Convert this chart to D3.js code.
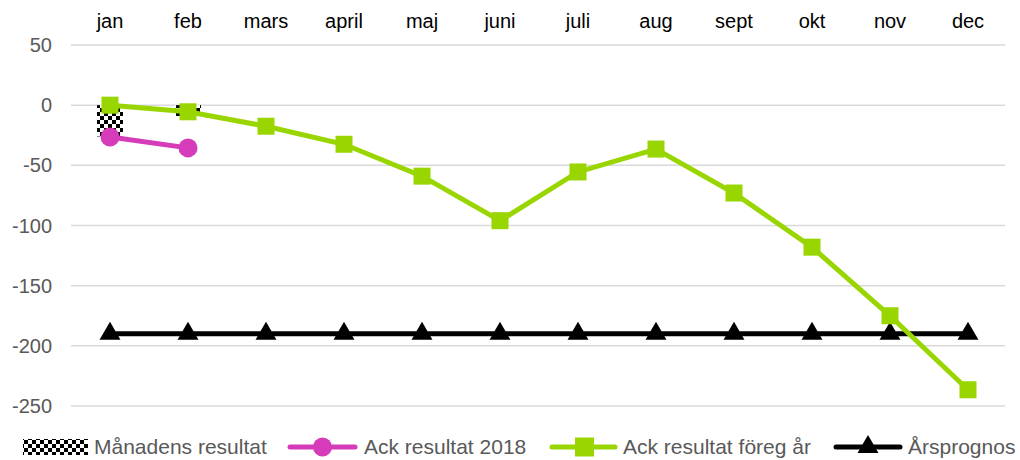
<!DOCTYPE html>
<html><head><meta charset="utf-8">
<script src="https://cdn.jsdelivr.net/npm/d3@7"></script>
<style>body{margin:0;background:#fff;font-family:"Liberation Sans",Arial,sans-serif}</style>
</head><body><svg id="c" width="1020" height="460"></svg>
<script>
const months = ["jan","feb","mars","april","maj","juni","juli","aug","sept","okt","nov","dec"];
const monthly = [-26, -9];
const ack2018 = [-26.5, -35.5];
const ackPrev = [0, -5.5, -17.5, -32.5, -59, -96, -55.5, -36.5, -73, -118, -175, -236.5];
const forecast = [-190,-190,-190,-190,-190,-190,-190,-190,-190,-190,-190,-190];
const yTicks = [50, 0, -50, -100, -150, -200, -250];
const legendLabels = ["Månadens resultat","Ack resultat 2018","Ack resultat föreg år","Årsprognos"];

const svg = d3.select("#c");
const x = d3.scaleBand().domain(months).range([71, 1007]);
const y = d3.scaleLinear().domain([-250, 50]).range([406, 45]);
const cx = m => x(m) + x.bandwidth()/2;

const defs = svg.append("defs");
const pat = defs.append("pattern").attr("id","chk").attr("patternUnits","userSpaceOnUse").attr("width",8).attr("height",8);
pat.append("rect").attr("width",8).attr("height",8).attr("fill","#fff");
pat.append("rect").attr("width",4).attr("height",4).attr("fill","#000");
pat.append("rect").attr("x",4).attr("y",4).attr("width",4).attr("height",4).attr("fill","#000");

// grid
svg.append("g").selectAll("line").data(yTicks).join("line")
  .attr("x1",71).attr("x2",1005).attr("y1",d=>y(d)).attr("y2",d=>y(d))
  .attr("stroke","#d9d9d9").attr("stroke-width",1.5);
// y labels
svg.append("g").selectAll("text").data(yTicks).join("text")
  .attr("x",52).attr("y",d=>y(d)).attr("dy","0.35em").attr("text-anchor","end")
  .attr("font-size",20).attr("fill","#595959").text(d=>d);
// x labels at top
svg.append("g").selectAll("text").data(months).join("text")
  .attr("x",cx).attr("y",28).attr("text-anchor","middle")
  .attr("font-size",20).attr("fill","#000").text(d=>d);

// bars
svg.append("g").selectAll("rect").data(monthly).join("rect")
  .attr("x",(d,i)=>cx(months[i])-13).attr("width",26)
  .attr("y",d=>y(Math.max(0,d))).attr("height",d=>Math.abs(y(d)-y(0)))
  .attr("fill","url(#chk)");

const line = d3.line().x((d,i)=>cx(months[i])).y(d=>y(d));
const green = "#99d600", mag = "#d63cb9";

// forecast
svg.append("path").datum(forecast).attr("d",line).attr("fill","none").attr("stroke","#000").attr("stroke-width",5);
const tri = d3.symbol().type(d3.symbolTriangle).size(190);
svg.append("g").selectAll("path").data(forecast).join("path")
  .attr("transform",(d,i)=>`translate(${cx(months[i])},${y(d)})`).attr("d",tri()).attr("fill","#000");

// prev year
svg.append("path").datum(ackPrev).attr("d",line).attr("fill","none").attr("stroke",green).attr("stroke-width",5);
svg.append("g").selectAll("rect").data(ackPrev).join("rect")
  .attr("x",(d,i)=>cx(months[i])-8.5).attr("y",d=>y(d)-8.5).attr("width",17).attr("height",17).attr("fill",green);

// 2018
svg.append("path").datum(ack2018).attr("d",line).attr("fill","none").attr("stroke",mag).attr("stroke-width",5);
svg.append("g").selectAll("circle").data(ack2018).join("circle")
  .attr("cx",(d,i)=>cx(months[i])).attr("cy",d=>y(d)).attr("r",9.5).attr("fill",mag);

// legend
const lg = svg.append("g");
const ly = 447;
const fs = 21;
lg.append("rect").attr("x",23).attr("y",ly-8).attr("width",65).attr("height",16).attr("fill","url(#chk)");
lg.append("text").attr("x",94).attr("y",ly).attr("dy","0.35em").attr("font-size",fs).attr("fill","#595959").text(legendLabels[0]);

lg.append("line").attr("x1",290).attr("x2",355).attr("y1",ly).attr("y2",ly).attr("stroke",mag).attr("stroke-width",5).attr("stroke-linecap","round");
lg.append("circle").attr("cx",322.5).attr("cy",ly).attr("r",9.5).attr("fill",mag);
lg.append("text").attr("x",364).attr("y",ly).attr("dy","0.35em").attr("font-size",fs).attr("fill","#595959").text(legendLabels[1]);

lg.append("line").attr("x1",552).attr("x2",615).attr("y1",ly).attr("y2",ly).attr("stroke",green).attr("stroke-width",5).attr("stroke-linecap","round");
lg.append("rect").attr("x",575).attr("y",ly-9.5).attr("width",19).attr("height",19).attr("fill",green);
lg.append("text").attr("x",623).attr("y",ly).attr("dy","0.35em").attr("font-size",fs).attr("fill","#595959").text(legendLabels[2]);

lg.append("line").attr("x1",836).attr("x2",900).attr("y1",ly).attr("y2",ly).attr("stroke","#000").attr("stroke-width",5).attr("stroke-linecap","round");
lg.append("path").attr("transform",`translate(868,${ly})`).attr("d",tri()).attr("fill","#000");
lg.append("text").attr("x",908).attr("y",ly).attr("dy","0.35em").attr("font-size",fs).attr("fill","#595959").text(legendLabels[3]);
</script></body></html>
